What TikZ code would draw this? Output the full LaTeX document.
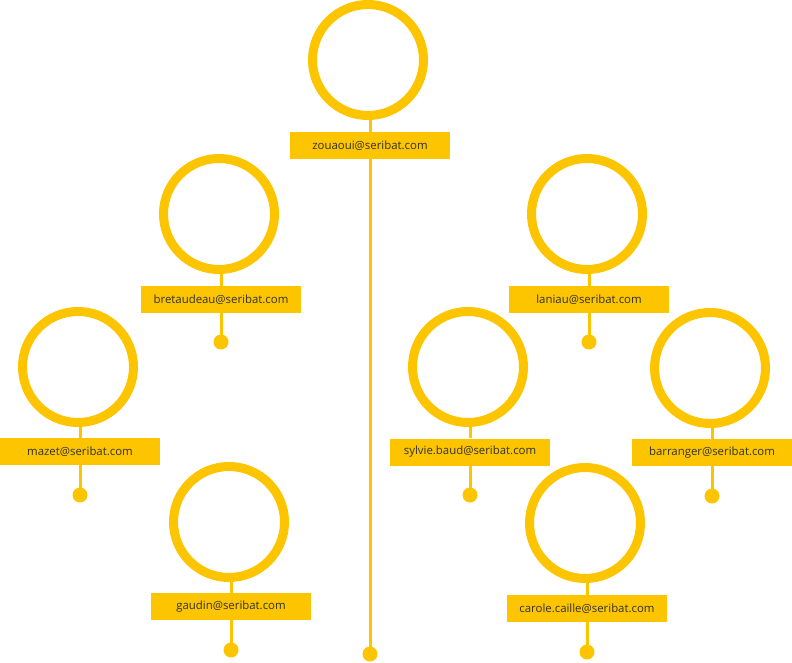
\documentclass[tikz,border=0pt]{standalone}
\usepackage{fontspec}
\setmainfont{Open Sans}
\usepackage{xcolor}
\definecolor{seriyellow}{RGB}{253,196,0}
\definecolor{serigray}{RGB}{50,50,50}
\usetikzlibrary{positioning}

\begin{document}
\begin{tikzpicture}[
    x=1pt, y=-1pt,
    ring/.style={circle, draw=seriyellow, line width=9pt, minimum size=111pt, inner sep=0pt},
    mailbox/.style={rectangle, fill=seriyellow, minimum width=160pt, minimum height=27pt,
      inner sep=0pt, font=\fontsize{11.4}{13}\selectfont, text=serigray},
    knob/.style={circle, fill=seriyellow, minimum size=15pt, inner sep=0pt},
    stem/.style={seriyellow, line width=3pt}
  ]
  \useasboundingbox (0,0) rectangle (792,663);

  %% --- Head of the tree ---
  \node[ring] (c-zou) at (368,60) {};
  \node[mailbox] (m-zou) at (370,145.5) {zouaoui@seribat.com};
  \node[knob] (d-zou) at (370,654) {};

  %% --- Left branch ---
  \node[ring] (c-bre) at (219,214) {};
  \node[mailbox] (m-bre) at (221,299.5) {bretaudeau@seribat.com};
  \node[knob] (d-bre) at (221,342) {};

  \node[ring] (c-maz) at (78,367) {};
  \node[mailbox] (m-maz) at (80,451.5) {mazet@seribat.com};
  \node[knob] (d-maz) at (80,495) {};

  \node[ring] (c-gau) at (229,522) {};
  \node[mailbox] (m-gau) at (231,606.5) {gaudin@seribat.com};
  \node[knob] (d-gau) at (231,650) {};

  %% --- Right branch ---
  \node[ring] (c-lan) at (587,214) {};
  \node[mailbox] (m-lan) at (589,299.5) {laniau@seribat.com};
  \node[knob] (d-lan) at (589,342) {};

  \node[ring] (c-syl) at (468,367) {};
  \node[mailbox] (m-syl) at (470,452) {sylvie.baud@seribat.com};
  \node[knob] (d-syl) at (470,495) {};

  \node[ring] (c-bar) at (710,368) {};
  \node[mailbox] (m-bar) at (712,452.5) {barranger@seribat.com};
  \node[knob] (d-bar) at (712,496) {};

  \node[ring] (c-car) at (585,523) {};
  \node[mailbox] (m-car) at (587,608.5) {carole.caille@seribat.com};
  \node[knob] (d-car) at (587,652) {};

  %% --- Stems ---
  \foreach \p in {zou,bre,maz,gau,lan,syl,bar,car} {
    \draw[stem] (m-\p.north) -- (m-\p.north |- c-\p.south);
    \draw[stem] (m-\p.south) -- (d-\p.center);
  }
\end{tikzpicture}
\end{document}
